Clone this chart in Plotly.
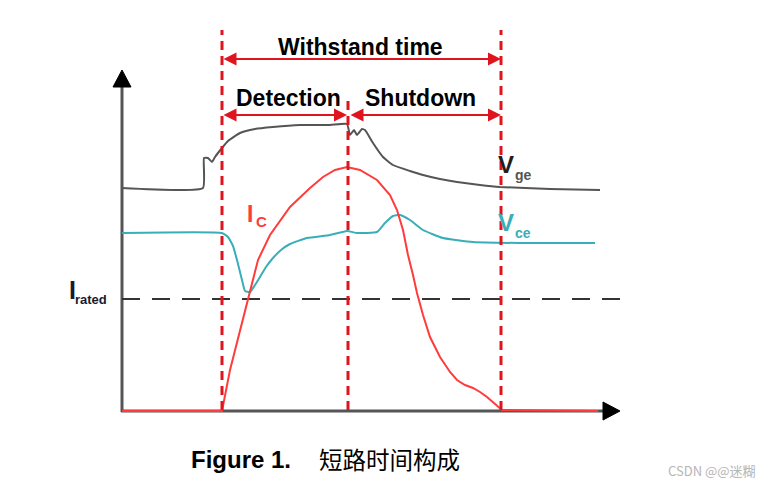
import plotly.graph_objects as go

# ---------------- data (time / amplitude, arbitrary units; origin at axis corner) ----------------
vge_t = [0, 81, 82, 86, 90, 93, 100, 106, 118, 133, 151, 178, 208, 225, 228, 232, 235, 240, 243,
         251, 261, 271, 288, 301, 318, 335, 358, 378, 428, 478]
vge_v = [223, 223, 253, 253, 249, 254, 263, 270, 278, 282, 284, 286, 286, 287, 276, 281, 276, 282, 281,
         268, 254, 246, 240, 236, 232, 229, 226, 224, 222, 221]

ic_t = [0, 100, 108, 118, 126, 136, 148, 168, 188, 201, 213, 225, 238, 255, 268, 275, 281, 286, 291, 295,
        301, 308, 318, 328, 335, 343, 351, 358, 365, 373, 380, 476]
ic_v = [0, 0, 41, 81, 112, 151, 176, 204, 223, 234, 241, 244, 241, 231, 216, 201, 181, 156, 136, 118,
        96, 74, 54, 39, 31, 26, 23, 19, 14, 7, 1, 0]

vce_t = [0, 100, 106, 111, 115, 120, 123, 128, 133, 138, 144, 151, 159, 168, 185, 208, 225, 235, 255, 263,
         271, 278, 288, 301, 321, 351, 398, 473]
vce_v = [178, 178, 174, 165, 151, 131, 120, 119, 126, 134, 144, 153, 161, 167, 173, 176, 180, 178, 179, 188,
         195, 196, 191, 181, 173, 169, 168, 168]

i_rated = 112
t_fault = 100        # start of short circuit / detection
t_detect = 226       # detection end / shutdown start
t_end = 379          # end of withstand time

# ---------------- layout constants ----------------
X_MAX = 498          # x-axis arrow tip
Y_MAX = 341          # y-axis arrow tip
HEAD = 17            # axis arrowhead length
HALF = 9             # axis arrowhead half width
# the page body has an 8px margin, so the figure is 8px smaller and shifted
X_RANGE = [-114, 642]
Y_RANGE = [-74, 403]

C_VGE = "#555555"
C_IC = "#ff3b3b"
C_VCE = "#3aaeb8"
C_RED = "#e0141e"
C_AX = "#555555"

fig = go.Figure()

# curves
fig.add_trace(go.Scatter(x=vge_t, y=vge_v, mode="lines",
                         line=dict(color=C_VGE, width=2, shape="spline", smoothing=0.4),
                         hoverinfo="skip", showlegend=False))
fig.add_trace(go.Scatter(x=vce_t, y=vce_v, mode="lines",
                         line=dict(color=C_VCE, width=2, shape="spline", smoothing=0.4),
                         hoverinfo="skip", showlegend=False))
fig.add_trace(go.Scatter(x=ic_t, y=ic_v, mode="lines",
                         line=dict(color=C_IC, width=2),
                         hoverinfo="skip", showlegend=False))

shapes = []
# axes (below the curves)
shapes.append(dict(type="line", x0=0, x1=0, y0=-1, y1=Y_MAX - HEAD + 2, layer="below",
                   line=dict(color=C_AX, width=3)))
shapes.append(dict(type="line", x0=-1, x1=X_MAX - HEAD + 2, y0=0, y1=0, layer="below",
                   line=dict(color=C_AX, width=3)))
# axis arrowheads
shapes.append(dict(type="path", layer="above", fillcolor="black", line=dict(color="black", width=1),
                   path=f"M {-HALF} {Y_MAX - HEAD} L {HALF} {Y_MAX - HEAD} L 0 {Y_MAX} Z"))
shapes.append(dict(type="path", layer="above", fillcolor="black", line=dict(color="black", width=1),
                   path=f"M {X_MAX - HEAD} {HALF} L {X_MAX - HEAD} {-HALF} L {X_MAX} 0 Z"))
# I_rated dashed line
shapes.append(dict(type="line", x0=0, x1=X_MAX, y0=i_rated, y1=i_rated, layer="below",
                   line=dict(color="#333333", width=2, dash="18px,12px")))
# red vertical dashed lines
for t, top in [(t_fault, 381), (t_detect, 311), (t_end, 381)]:
    shapes.append(dict(type="line", x0=t, x1=t, y0=1, y1=top,
                       line=dict(color=C_RED, width=3, dash="9px,6px")))
fig.update_layout(shapes=shapes)

ann = []
# double-headed red arrows
def dbl_arrow(x0, x1, y):
    return dict(x=x1, y=y, ax=x0, ay=y, xref="x", yref="y", axref="x", ayref="y",
                text="", showarrow=True, arrowhead=2, startarrowhead=2, arrowside="end+start",
                arrowsize=1.3, startarrowsize=1.3, arrowwidth=2, arrowcolor=C_RED,
                standoff=0, startstandoff=0)

ann.append(dbl_arrow(t_fault, t_end, 352))
ann.append(dbl_arrow(t_fault, t_detect - 1, 296))
ann.append(dbl_arrow(t_detect + 1, t_end, 296))

BOLD = "Liberation Sans, Arial, sans-serif"
def txt(x, y, s, size, color="black", weight="normal", family=BOLD, xanchor="center"):
    return dict(x=x, y=y, xref="x", yref="y", text=s, showarrow=False, xanchor=xanchor, yanchor="middle",
                font=dict(size=size, color=color, family=family, weight=weight))

ann.append(txt(238, 364, "Withstand time", 23, weight="bold"))
ann.append(txt(166, 313, "Detection", 23, weight="bold"))
ann.append(txt(298, 313, "Shutdown", 23, weight="bold"))

# curve labels
ann.append(txt(384, 247, "V", 24, color="#1e1e1e", weight="bold"))
ann.append(txt(401, 236, "ge", 14, color=C_VGE, weight="bold"))
ann.append(txt(384, 189, "V", 24, color=C_VCE, weight="bold"))
ann.append(txt(401, 178, "ce", 14, color=C_VCE, weight="bold"))
ann.append(txt(128, 197, "I", 23, color=C_IC, weight="bold"))
ann.append(txt(139, 190, "C", 15, color=C_IC, weight="bold"))
ann.append(txt(-50, 121, "I", 25, color="#1a1a2a", weight="bold"))
ann.append(txt(-31, 112, "rated", 13, color="#1a1a2a", weight="bold"))

# caption and watermark
ann.append(txt(119, -48, "Figure 1.", 24, weight="bold"))
ann.append(txt(267, -48, "短路时间构成", 23.5, family="Noto Sans CJK SC"))
ann.append(txt(636, -59, "CSDN @@迷糊", 13, color="#b5b5b5", family="Noto Sans CJK SC", xanchor="right"))

fig.update_layout(
    annotations=ann,
    width=756, height=477,
    margin=dict(l=0, r=0, t=0, b=0),
    paper_bgcolor="white", plot_bgcolor="white",
    xaxis=dict(range=X_RANGE, visible=False, fixedrange=True),
    yaxis=dict(range=Y_RANGE, visible=False, fixedrange=True),
    showlegend=False,
)

fig.write_html("out.html")
